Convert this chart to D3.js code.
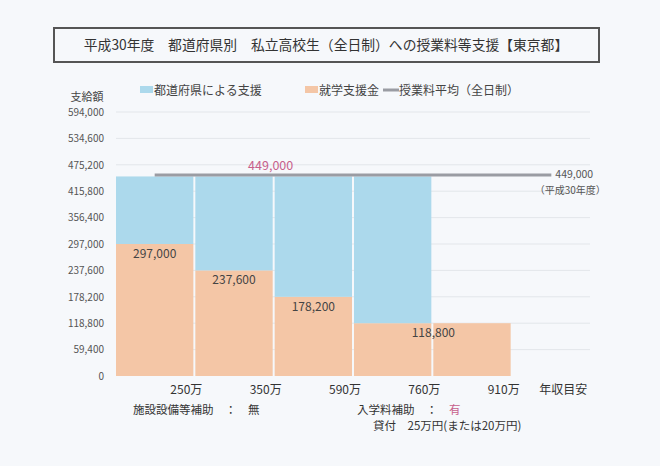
<!DOCTYPE html>
<html>
<head>
<meta charset="utf-8">
<script src="https://cdn.jsdelivr.net/npm/d3@7"></script>
<style>
  body { margin: 0; background: #f6f8fb; }
  svg { display: block; font-family: "Noto Sans CJK JP", sans-serif; }
</style>
</head>
<body>
<svg id="chart" width="660" height="466"></svg>
<script>
// 平成30年度 東京都 私立高校生への授業料等支援
const incomes = ['250万', '350万', '590万', '760万', '910万']
const kokuShien = [297000, 237600, 178200, 118800, 118800]   // 就学支援金
const toShien = [152000, 211400, 270800, 330200, 0]          // 都道府県による支援
const avgFee = 449000
const yTicks = [0, 59400, 118800, 178200, 237600, 297000, 356400, 415800, 475200, 534600, 594000]

const blue = '#acd9ec'
const orange = '#f4c6a6'

const svg = d3.select('#chart')

// title box
svg.append('rect')
    .attr('x', 54).attr('y', 28).attr('width', 545).attr('height', 34)
    .attr('fill', 'none').attr('stroke', '#555').attr('stroke-width', 2)
svg.append('text')
    .attr('x', 326).attr('y', 50)
    .attr('text-anchor', 'middle')
    .style('font-size', '13.8px').attr('fill', '#333')
    .text('平成30年度　都道府県別　私立高校生（全日制）への授業料等支援【東京都】')

let x = d3.scaleBand()
    .domain(incomes.concat(['年収目安']))
    .range([116, 590])
    .paddingInner(0.025)
    .paddingOuter(0)

let y = d3.scaleLinear()
    .domain([0, 594000])
    .range([376, 112])

// grid
svg.append('g')
  .selectAll('line')
  .data(yTicks.slice(1))
  .join('line')
    .attr('x1', 116).attr('x2', 590)
    .attr('y1', d => y(d)).attr('y2', d => y(d))
    .attr('stroke', '#e3e6ea')

// y axis labels
let yAxis = d3.axisLeft(y).tickValues(yTicks).tickSize(0).tickPadding(0)
    .tickFormat(d3.format(','))
svg.append('g')
    .attr('transform', 'translate(104,0)')
    .call(yAxis)
    .call(g => g.select('.domain').remove())
    .call(g => g.selectAll('text')
        .attr('fill', '#555')
        .style('font-family', '"Noto Sans CJK JP", sans-serif')
        .style('font-size', '10px'))

svg.append('text')
    .attr('x', 87).attr('y', 101).attr('text-anchor', 'middle')
    .style('font-size', '11px').attr('fill', '#444')
    .text('支給額')

// stacked bars
let rows = incomes.map((inc, i) => ({ inc: inc, a: kokuShien[i], b: toShien[i] }))
let stack = d3.stack().keys(['a', 'b'])(rows)
let colors = [orange, blue]

svg.append('g')
  .selectAll('g')
  .data(stack)
  .join('g')
    .attr('fill', (d, i) => colors[i])
  .selectAll('rect')
  .data(d => d)
  .join('rect')
    .attr('x', d => x(d.data.inc))
    .attr('width', x.bandwidth())
    .attr('y', d => y(d[1]))
    .attr('height', d => y(d[0]) - y(d[1]))

// orange value labels (the two equal 118,800 bars share one label)
svg.append('g')
  .selectAll('text')
  .data(rows.slice(0, 4))
  .join('text')
    .attr('x', (d, i) => i < 3 ? x(d.inc) + x.bandwidth() / 2 : x(d.inc) + x.step())
    .attr('y', d => y(d.a) + 14)
    .attr('text-anchor', 'middle')
    .style('font-size', '12px').attr('fill', '#444')
    .text(d => d3.format(',')(d.a))

// average tuition line
let xFirst = x(incomes[0]) + x.bandwidth() / 2
let xLast = x('年収目安') + x.bandwidth() / 2
svg.append('line')
    .attr('x1', xFirst).attr('x2', xLast)
    .attr('y1', y(avgFee) - 1.5).attr('y2', y(avgFee) - 1.5)
    .attr('stroke', '#9a9ca3').attr('stroke-width', 3)

svg.append('text')
    .attr('x', x(incomes[2]) - 4).attr('y', y(avgFee) - 6)
    .attr('text-anchor', 'middle')
    .style('font-size', '12.5px').attr('fill', '#c7608c')
    .text(d3.format(',')(avgFee))
svg.append('text')
    .attr('x', xLast + 4).attr('y', y(avgFee) + 2)
    .style('font-size', '10.5px').attr('fill', '#555')
    .text(d3.format(',')(avgFee))
svg.append('text')
    .attr('x', xLast + 19).attr('y', y(avgFee) + 18)
    .attr('text-anchor', 'middle')
    .style('font-size', '10px').attr('fill', '#555')
    .text('（平成30年度）')

// x labels
svg.append('g')
  .selectAll('text')
  .data(x.domain())
  .join('text')
    .attr('x', (d, i) => i < incomes.length ? x(d) + x.bandwidth() - 7 : x(d) + x.bandwidth() / 2 + 12)
    .attr('y', 394)
    .attr('text-anchor', 'middle')
    .style('font-size', '12px').attr('fill', '#333')
    .text(d => d)

// legend
let legend = [
  { label: '都道府県による支援', color: blue, x: 140, type: 'rect' },
  { label: '就学支援金', color: orange, x: 305, type: 'rect' },
  { label: '授業料平均（全日制）', color: '#9a9ca3', x: 383, type: 'line' }
]
let lg = svg.append('g').selectAll('g').data(legend).join('g')
    .attr('transform', d => `translate(${d.x},90)`)
lg.filter(d => d.type === 'rect').append('rect')
    .attr('x', 0).attr('y', -4).attr('width', 13).attr('height', 7)
    .attr('fill', d => d.color)
lg.filter(d => d.type === 'line').append('line')
    .attr('x1', 0).attr('x2', 16).attr('y1', 0).attr('y2', 0)
    .attr('stroke', d => d.color).attr('stroke-width', 3)
lg.append('text')
    .attr('x', d => d.type === 'line' ? 16 : 14).attr('y', 4.5)
    .style('font-size', '12px').attr('fill', '#444')
    .text(d => d.label)

// notes under the chart
svg.append('text')
    .attr('x', 133).attr('y', 414)
    .style('font-size', '11.5px').attr('fill', '#333')
    .text('施設設備等補助　：　無')
let n2 = svg.append('text')
    .attr('x', 357).attr('y', 414)
    .style('font-size', '11.5px').attr('fill', '#333')
n2.append('tspan').text('入学料補助　：　')
n2.append('tspan').attr('fill', '#c7608c').text('有')
svg.append('text')
    .attr('x', 373).attr('y', 430)
    .style('font-size', '11.5px').attr('fill', '#333')
    .text('貸付　25万円(または20万円)')
</script>
</body>
</html>
